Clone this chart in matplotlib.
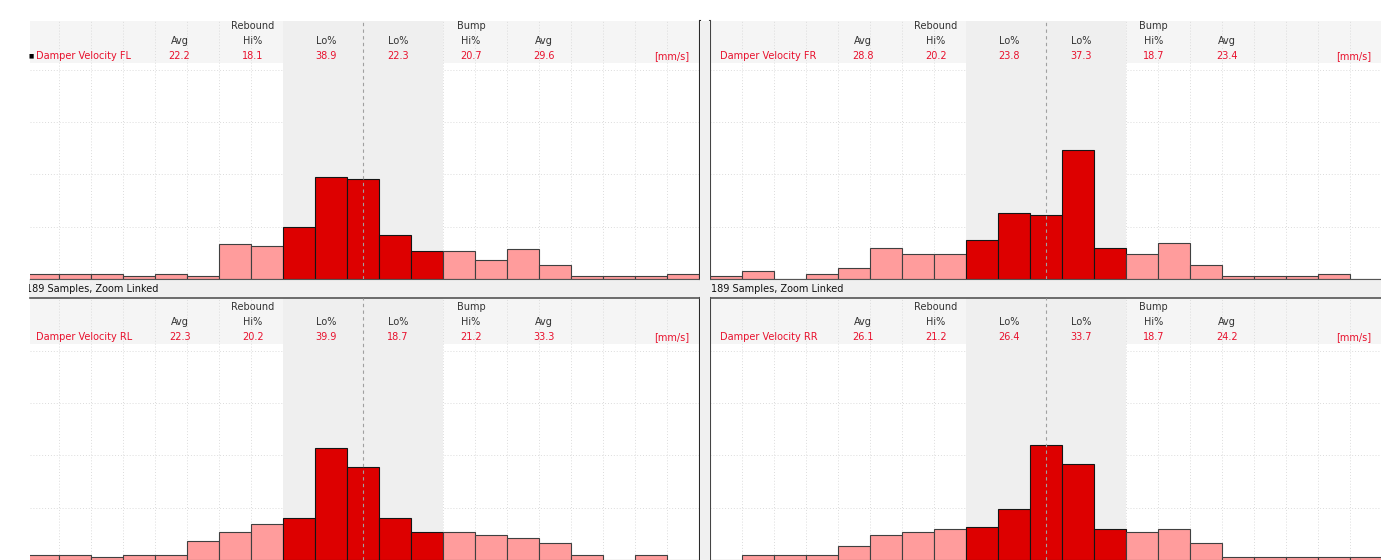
import matplotlib
matplotlib.use('Agg')
import matplotlib.pyplot as plt
from matplotlib.patches import Rectangle

# Гистограммы скорости демпферов, 4 угла
bins = [-100, -90, -80, -70, -60, -50, -40, -30, -20, -10, 0,
        10, 20, 30, 40, 50, 60, 70, 80, 90, 100]

fl_pct = [0.9, 0.9, 0.9, 0.6, 0.9, 0.6, 6.7, 6.3, 10.0, 19.5, 19.1,
          8.4, 5.3, 5.3, 3.7, 5.8, 2.7, 0.6, 0.6, 0.6, 0.9]
fr_pct = [0.6, 1.6, 0.0, 1.0, 2.1, 5.9, 4.7, 4.7, 7.4, 12.7, 12.3,
          24.7, 5.9, 4.7, 6.9, 2.7, 0.6, 0.6, 0.6, 1.0, 0.0]
rl_pct = [1.0, 1.0, 0.6, 1.0, 1.0, 3.6, 5.3, 6.9, 8.0, 21.4, 17.7,
          8.0, 5.3, 5.3, 4.7, 4.3, 3.2, 1.0, 0.0, 1.0, 0.0]
rr_pct = [0.0, 1.0, 1.0, 1.0, 2.6, 4.7, 5.3, 5.9, 6.3, 9.7, 22.0,
          18.3, 5.9, 5.3, 5.9, 3.2, 0.5, 0.5, 0.5, 0.5, 0.5]

col_titles = ['Avg', 'Hi%', 'Lo%', 'Lo%', 'Hi%', 'Avg']
fl_stats = ['22.2', '18.1', '38.9', '22.3', '20.7', '29.6']
fr_stats = ['28.8', '20.2', '23.8', '37.3', '18.7', '23.4']
rl_stats = ['22.3', '20.2', '39.9', '18.7', '21.2', '33.3']
rr_stats = ['26.1', '21.2', '26.4', '33.7', '18.7', '24.2']

samples_text = '189 Samples, Zoom Linked'
lo_limit = 25

W, H = 1381, 560
PX_PER_PCT = 5.23
col_x = [-57.3, -34.5, -11.6, 10.9, 33.7, 56.6]

RED = '#e8112d'
DARK = '#dd0000'
LIGHT = '#ff9c9c'
TXT = '#333333'


def box(x0, y0, x1, y1):
    # пиксели (сверху-слева) -> координаты фигуры
    return [x0 / W, 1 - y1 / H, (x1 - x0) / W, (y1 - y0) / H]


fig = plt.figure(figsize=(W / 100, H / 100), dpi=100)

# серый зазор между панелями
fig.patches.append(Rectangle((700 / W, 0), 10 / W, 1 - 21 / H, transform=fig.transFigure,
                             facecolor='#f0f0f0', edgecolor='none', zorder=0))

# полоска "189 Samples"
ax_s = fig.add_axes(box(29, 279, 1381, 298))
ax_s.set_facecolor('#f0f0f0')
ax_s.set_xlim(29, 1381)
ax_s.set_ylim(298, 279)
ax_s.set_xticks([])
ax_s.set_yticks([])
for s in ax_s.spines.values():
    s.set_visible(False)
ax_s.text(26, 289, samples_text, fontsize=7, color='#111111', va='center', ha='left', clip_on=True)
ax_s.text(711, 289, samples_text, fontsize=7, color='#111111', va='center', ha='left', clip_on=True)

panels = [
    ('Damper Velocity FL', fl_pct, fl_stats, (30, 700, 21, 279), (-104, 105.2), 'left', 'top'),
    ('Damper Velocity FR', fr_pct, fr_stats, (710, 1381, 21, 279), (-105, 104.7), 'right', 'top'),
    ('Damper Velocity RL', rl_pct, rl_stats, (30, 700, 298, 560), (-104, 105.2), 'left', 'bottom'),
    ('Damper Velocity RR', rr_pct, rr_stats, (710, 1381, 298, 560), (-105, 104.7), 'right', 'bottom'),
]

grid_x = [b - 5 for b in bins[1:]]

for name, vals, stats, (x0, x1, y0, y1), xlim, side, row in panels:
    ax = fig.add_axes(box(x0, y0, x1, y1))
    ymax = (y1 - y0) / PX_PER_PCT
    ax.set_xlim(xlim)
    ax.set_ylim(0, ymax)
    ax.set_facecolor('white')

    # шапка
    ax.axhspan(41.3, ymax, color='#f5f5f5', lw=0, zorder=0.1)

    ax.set_xticks(grid_x)
    ax.set_yticks([10, 20, 30, 40])
    ax.tick_params(length=0, labelbottom=False, labelleft=False)
    ax.grid(True, color='#dcdcdc', linestyle=(0, (1, 2)), linewidth=0.7)
    ax.set_axisbelow(True)

    # зона Lo
    ax.axvspan(-lo_limit, lo_limit, color='#efefef', lw=0, zorder=0.8)

    colors = [DARK if abs(b) < lo_limit else LIGHT for b in bins]
    edges = ['#151515' if abs(b) < lo_limit else '#404040' for b in bins]
    ax.bar(bins, vals, width=10, color=colors, edgecolor=edges, linewidth=0.8, zorder=2)
    ax.axvline(0, color='#a0a0a0', linestyle=(0, (3, 3)), linewidth=0.8, zorder=3)

    # рамки
    for s in ax.spines.values():
        s.set_visible(False)
    if side == 'left':
        ax.spines['right'].set_visible(True)
        ax.spines['right'].set_color('#2a2a2a')
        ax.spines['right'].set_linewidth(1.5)
    else:
        ax.spines['left'].set_visible(True)
        ax.spines['left'].set_color('#444444')
        ax.spines['left'].set_linewidth(1.5)
    if row == 'top':
        ax.spines['bottom'].set_visible(True)
        ax.spines['bottom'].set_color('#555555')
        ax.spines['bottom'].set_linewidth(0.8)
    else:
        ax.spines['top'].set_visible(True)
        ax.spines['top'].set_color('#555555')
        ax.spines['top'].set_linewidth(1.2)

    # текст шапки
    ax.text(col_x[1], 48.4, 'Rebound', fontsize=7, color=TXT, ha='center', va='center', zorder=5)
    ax.text(col_x[4], 48.4, 'Bump', fontsize=7, color=TXT, ha='center', va='center', zorder=5)
    for cx, t, v in zip(col_x, col_titles, stats):
        ax.text(cx, 45.5, t, fontsize=7, color=TXT, ha='center', va='center', zorder=5)
        ax.text(cx, 42.6, v, fontsize=7, color=RED, ha='center', va='center', zorder=5)
    ax.text(-102, 42.6, name, fontsize=7, color=RED, ha='left', va='center', zorder=5)
    ax.text(101.8, 42.6, '[mm/s]', fontsize=7, color=RED, ha='right', va='center', zorder=5)
    if name.endswith('FL'):
        ax.text(-103.7, 42.6, '■', fontsize=4, color='black', ha='center', va='center', zorder=5)

fig.savefig('out.png', dpi=100)
